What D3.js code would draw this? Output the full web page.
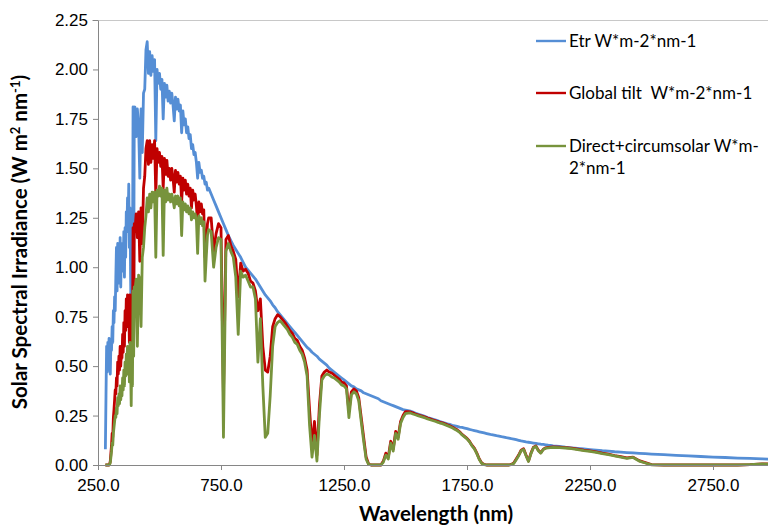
<!DOCTYPE html>
<html>
<head>
<meta charset="utf-8">
<script src="https://cdn.jsdelivr.net/npm/d3@7"></script>
<style>
  body { margin: 0; background: #fff; }
  svg { font-family: Lato, "Open Sans", sans-serif; }
</style>
</head>
<body>
<svg width="768" height="527"></svg>
<script>
// wavelengths (nm), by segment
const wavelength = [
  280, 282.5, 285, 287.5, 290, 292.5, 295, 297.5, 300, 302.5, 305, 307.5, 310, 312.5, 315, 317.5, 320, 322.5, 325, 327.5, 330, 332.5, 335, 337.5, 340, 342.5, 345, 347.5, 350, 352.5, 355, 357.5, 360, 362.5, 365, 367.5, 370, 372.5, 375, 377.5, 380, 382.5, 385, 387.5, 390, 392.5, 395, 397.5,
  400, 405, 410, 415, 420, 425, 430, 435, 440, 445, 450, 455, 460, 465, 470, 475, 480, 485, 490, 495, 500, 505, 510, 515, 520, 525, 530, 535, 540, 545, 550, 555, 560, 565, 570, 575, 580, 585, 590, 595, 600, 605, 610, 615, 620, 625, 630, 635, 640, 645, 650, 655, 660, 665, 670, 675, 680, 685, 690, 695, 700,
  710, 720, 730, 740, 750, 760, 770, 780, 790, 800, 810, 820, 830, 840, 850, 860, 870, 880, 890, 900, 910, 920, 930, 940, 950, 960, 970, 980, 990, 1000,
  1010, 1020, 1030, 1040, 1050, 1060, 1070, 1080, 1090, 1100, 1110, 1120, 1130, 1140, 1150, 1160, 1170, 1180, 1190, 1200,
  1210, 1220, 1230, 1240, 1250, 1260, 1270, 1280, 1290, 1300, 1310, 1320, 1330, 1340, 1350, 1360, 1370, 1380, 1390, 1400,
  1410, 1420, 1430, 1440, 1450, 1460, 1470, 1480, 1490, 1500, 1510, 1520, 1530, 1540, 1550, 1560, 1570, 1580, 1590, 1600,
  1610, 1620, 1630, 1640, 1650, 1660, 1670, 1680, 1690, 1700, 1710, 1720, 1730, 1740, 1750, 1760, 1770, 1780, 1790, 1800,
  1810, 1820, 1830, 1840, 1850, 1860, 1870, 1880, 1890, 1900, 1910, 1920, 1930, 1940, 1950, 1960, 1970, 1980, 1990, 2000,
  2010, 2020, 2030, 2040, 2050, 2060, 2070, 2080, 2090, 2100,
  2125, 2150, 2175, 2200, 2225, 2250, 2275, 2300, 2325, 2350, 2375, 2400, 2425, 2450, 2475, 2500,
  2550, 2600, 2650, 2700, 2750, 2800, 2850, 2900, 2950, 3000
];

// Etr W*m-2*nm-1
const etr = [
  0.08, 0.35, 0.60, 0.47, 0.62, 0.55, 0.64, 0.50, 0.46, 0.62, 0.58, 0.70, 0.62, 0.78, 0.72, 0.85, 0.78, 0.95, 1.10, 0.88, 1.12, 0.98, 1.05, 0.92, 1.15, 0.90, 1.08, 0.98, 1.12, 1.02, 1.18, 0.95, 1.20, 1.05, 1.28, 1.18, 1.35, 1.22, 1.42, 1.10, 1.30, 0.95, 0.72, 1.15, 0.90, 1.81, 0.80, 1.80,
  1.81, 1.66, 1.80, 1.72, 1.45, 1.80, 1.58, 1.88, 1.90, 2.10, 2.14, 1.98, 2.09, 1.97, 2.07, 1.99, 2.05, 1.64, 2.00, 1.93, 1.98, 1.90, 1.95, 1.75, 1.93, 1.86, 1.92, 1.84, 1.89, 1.83, 1.88, 1.82, 1.74, 1.86, 1.80, 1.85, 1.79, 1.82, 1.68, 1.79, 1.72, 1.75, 1.68, 1.71, 1.65, 1.67, 1.60, 1.62, 1.57, 1.58, 1.53, 1.45, 1.53, 1.48, 1.49, 1.45, 1.46, 1.42, 1.43, 1.39, 1.40,
  1.37, 1.34, 1.31, 1.28, 1.25, 1.22, 1.19, 1.16, 1.135, 1.11, 1.09, 1.07, 1.05, 1.025, 1.00, 0.985, 0.97, 0.955, 0.94, 0.92, 0.90, 0.88, 0.86, 0.845, 0.83, 0.81, 0.795, 0.775, 0.76, 0.745,
  0.73, 0.715, 0.70, 0.685, 0.67, 0.655, 0.64, 0.625, 0.61, 0.595, 0.585, 0.57, 0.56, 0.55, 0.535, 0.525, 0.515, 0.505, 0.49, 0.48,
  0.47, 0.46, 0.45, 0.44, 0.43, 0.42, 0.41, 0.40, 0.395, 0.385, 0.38, 0.375, 0.365, 0.36, 0.355, 0.35, 0.345, 0.34, 0.335, 0.325,
  0.32, 0.315, 0.31, 0.305, 0.30, 0.295, 0.29, 0.285, 0.28, 0.278, 0.275, 0.272, 0.268, 0.262, 0.258, 0.254, 0.25, 0.245, 0.24, 0.236,
  0.232, 0.228, 0.224, 0.22, 0.216, 0.212, 0.208, 0.205, 0.201, 0.198, 0.195, 0.192, 0.19, 0.187, 0.184, 0.18, 0.177, 0.174, 0.171, 0.168,
  0.165, 0.162, 0.159, 0.156, 0.153, 0.151, 0.148, 0.146, 0.143, 0.141, 0.138, 0.136, 0.133, 0.131, 0.128, 0.125, 0.122, 0.12, 0.117, 0.115,
  0.113, 0.111, 0.109, 0.107, 0.105, 0.104, 0.102, 0.10, 0.099, 0.097,
  0.094, 0.09, 0.087, 0.084, 0.081, 0.078, 0.075, 0.072, 0.07, 0.067, 0.065, 0.063, 0.061, 0.059, 0.057, 0.055,
  0.052, 0.049, 0.046, 0.043, 0.040, 0.038, 0.035, 0.033, 0.031, 0.029
];

// Global tilt  W*m-2*nm-1
const globalTilt = [
  0, 0, 0, 0, 0, 0, 0, 0.005, 0.02, 0.06, 0.10, 0.16, 0.14, 0.24, 0.28, 0.33, 0.38, 0.36, 0.44, 0.40, 0.52, 0.46, 0.55, 0.48, 0.60, 0.50, 0.58, 0.54, 0.66, 0.57, 0.72, 0.60, 0.78, 0.68, 0.84, 0.74, 0.86, 0.70, 0.82, 0.62, 0.86, 0.72, 0.55, 0.80, 0.60, 1.20, 0.75, 1.22,
  1.18, 1.27, 1.15, 1.28, 1.03, 1.30, 1.12, 1.40, 1.46, 1.60, 1.64, 1.52, 1.64, 1.53, 1.62, 1.55, 1.64, 1.36, 1.60, 1.53, 1.58, 1.51, 1.56, 1.40, 1.55, 1.47, 1.54, 1.46, 1.50, 1.44, 1.50, 1.45, 1.38, 1.49, 1.43, 1.48, 1.42, 1.46, 1.33, 1.45, 1.39, 1.44, 1.37, 1.42, 1.36, 1.40, 1.30, 1.39, 1.34, 1.37, 1.31, 1.22, 1.33, 1.28, 1.32, 1.27, 1.29, 1.05, 1.12, 1.22, 1.25,
  1.25, 1.08, 1.17, 1.22, 1.20, 0.35, 1.14, 1.16, 1.11, 1.08, 1.04, 0.85, 1.02, 0.98, 0.99, 0.97, 0.93, 0.92, 0.88, 0.78, 0.84, 0.60, 0.48, 0.47, 0.55, 0.70, 0.74, 0.76, 0.75, 0.735,
  0.72, 0.70, 0.68, 0.665, 0.64, 0.63, 0.60, 0.58, 0.54, 0.48, 0.28, 0.10, 0.22, 0.05, 0.30, 0.45, 0.47, 0.48, 0.47, 0.465,
  0.455, 0.445, 0.435, 0.42, 0.415, 0.40, 0.27, 0.37, 0.385, 0.375, 0.34, 0.24, 0.14, 0.04, 0.005, 0, 0, 0, 0, 0,
  0.02, 0.06, 0.04, 0.12, 0.08, 0.17, 0.14, 0.22, 0.25, 0.27, 0.27, 0.268, 0.264, 0.258, 0.254, 0.25, 0.246, 0.242, 0.237, 0.233,
  0.229, 0.225, 0.221, 0.216, 0.213, 0.208, 0.203, 0.198, 0.192, 0.185, 0.178, 0.168, 0.155, 0.145, 0.135, 0.12, 0.10, 0.085, 0.06, 0.03,
  0.01, 0.003, 0, 0, 0, 0, 0, 0, 0, 0, 0, 0, 0.003, 0.01, 0.03, 0.05, 0.075, 0.082, 0.05, 0.02,
  0.06, 0.09, 0.096, 0.075, 0.062, 0.08, 0.087, 0.089, 0.09, 0.091,
  0.09, 0.088, 0.085, 0.08, 0.075, 0.071, 0.066, 0.06, 0.055, 0.048, 0.042, 0.036, 0.04, 0.022, 0.012, 0.002,
  0, 0, 0, 0, 0, 0, 0, 0.002, 0.006, 0.005
];

// Direct+circumsolar W*m-2*nm-1
const direct = [
  0, 0, 0, 0, 0, 0, 0, 0.003, 0.012, 0.04, 0.07, 0.11, 0.10, 0.16, 0.19, 0.22, 0.25, 0.24, 0.29, 0.26, 0.34, 0.30, 0.36, 0.31, 0.40, 0.33, 0.38, 0.35, 0.44, 0.38, 0.48, 0.40, 0.52, 0.45, 0.56, 0.50, 0.60, 0.46, 0.58, 0.42, 0.62, 0.50, 0.30, 0.58, 0.40, 0.88, 0.55, 0.90,
  0.88, 0.94, 0.60, 0.96, 0.94, 0.70, 1.05, 1.10, 1.20, 1.26, 1.35, 1.28, 1.37, 1.30, 1.38, 1.33, 1.38, 1.05, 1.39, 1.36, 1.41, 1.36, 1.40, 1.06, 1.39, 1.33, 1.40, 1.34, 1.37, 1.33, 1.37, 1.34, 1.30, 1.36, 1.32, 1.36, 1.31, 1.35, 1.16, 1.33, 1.29, 1.32, 1.28, 1.31, 1.27, 1.30, 1.24, 1.28, 1.25, 1.27, 1.24, 1.07, 1.26, 1.22, 1.25, 1.21, 1.23, 0.93, 1.05, 1.16, 1.19,
  1.18, 1.00, 1.10, 1.15, 1.14, 0.14, 1.08, 1.12, 1.08, 1.05, 0.95, 0.66, 0.98, 0.95, 0.96, 0.93, 0.90, 0.90, 0.84, 0.52, 0.74, 0.40, 0.14, 0.16, 0.35, 0.60, 0.70, 0.72, 0.73, 0.715,
  0.70, 0.685, 0.66, 0.645, 0.62, 0.61, 0.58, 0.56, 0.52, 0.45, 0.20, 0.04, 0.15, 0.02, 0.25, 0.43, 0.45, 0.46, 0.455, 0.445,
  0.44, 0.43, 0.42, 0.405, 0.40, 0.385, 0.24, 0.355, 0.37, 0.36, 0.325, 0.22, 0.12, 0.03, 0.003, 0, 0, 0, 0, 0,
  0.015, 0.05, 0.03, 0.11, 0.07, 0.16, 0.13, 0.21, 0.24, 0.26, 0.262, 0.263, 0.258, 0.254, 0.25, 0.246, 0.242, 0.238, 0.233, 0.229,
  0.225, 0.221, 0.217, 0.212, 0.209, 0.204, 0.199, 0.194, 0.188, 0.181, 0.174, 0.165, 0.152, 0.142, 0.132, 0.117, 0.097, 0.082, 0.057, 0.028,
  0.008, 0.002, 0, 0, 0, 0, 0, 0, 0, 0, 0, 0, 0.002, 0.008, 0.027, 0.047, 0.072, 0.079, 0.047, 0.018,
  0.057, 0.087, 0.094, 0.072, 0.06, 0.078, 0.085, 0.087, 0.088, 0.089,
  0.088, 0.086, 0.083, 0.078, 0.073, 0.069, 0.064, 0.058, 0.053, 0.046, 0.04, 0.034, 0.038, 0.02, 0.01, 0.001,
  0, 0, 0, 0, 0, 0, 0, 0.002, 0.005, 0.004
];

const seriesNames = ["Etr W*m-2*nm-1", "Global tilt  W*m-2*nm-1", "Direct+circumsolar W*m-2*nm-1"];
const seriesColors = ["#558ed5", "#c00000", "#77933c"];
const xTicks = [250, 750, 1250, 1750, 2250, 2750];
const yTicks = [0, 0.25, 0.5, 0.75, 1, 1.25, 1.5, 1.75, 2, 2.25];

const svg = d3.select("svg");

// plot area runs past the right edge of the picture (the chart is cut there)
const x = d3.scaleLinear().domain([250, 4000]).range([98, 1020.5]);
const y = d3.scaleLinear().domain([0, 2.25]).range([465, 20]);

// top border of the plot area
svg.append("line")
  .attr("x1", 92).attr("x2", 1020)
  .attr("y1", 20.5).attr("y2", 20.5)
  .attr("stroke", "#c8c8c8");

const series = [etr, globalTilt, direct];

const line = d3.line()
  .x((d, i) => x(wavelength[i]))
  .y(d => y(d));

svg.append("g")
  .selectAll("path")
  .data(series)
  .enter()
  .append("path")
  .attr("d", d => line(d))
  .attr("fill", "none")
  .attr("stroke", (d, i) => seriesColors[i])
  .attr("stroke-width", 2.8)
  .attr("stroke-linejoin", "round");

// axes
const xAxis = svg.append("g")
  .attr("transform", "translate(0,465)")
  .call(d3.axisBottom(x).tickValues(xTicks).tickFormat(d3.format(".1f")).tickSize(5).tickSizeOuter(0).tickPadding(9));

const yAxis = svg.append("g")
  .attr("transform", "translate(98,0)")
  .call(d3.axisLeft(y).tickValues(yTicks).tickFormat(d3.format(".2f")).tickSize(5).tickSizeOuter(0).tickPadding(5));

[xAxis, yAxis].forEach(g => {
  g.selectAll("path, line").attr("stroke", "#868686");
  g.selectAll("text").attr("fill", "#000").style("font-size", "17px");
});

// axis titles
svg.append("text")
  .attr("x", 436).attr("y", 521)
  .attr("text-anchor", "middle")
  .style("font-size", "20.5px").style("font-weight", "bold")
  .text("Wavelength (nm)");

const yTitle = svg.append("text")
  .attr("transform", "translate(27,242) rotate(-90)")
  .attr("text-anchor", "middle")
  .style("font-size", "20.5px").style("font-weight", "bold");
yTitle.append("tspan").text("Solar Spectral Irradiance (W m");
yTitle.append("tspan").attr("dy", -7).style("font-size", "13px").text("2");
yTitle.append("tspan").attr("dy", 7).text(" nm");
yTitle.append("tspan").attr("dy", -7).style("font-size", "13px").text("-1");
yTitle.append("tspan").attr("dy", 7).text(")");

// legend
const legendY = [41, 93, 146];
const legend = svg.append("g");
seriesNames.forEach((name, i) => {
  legend.append("line")
    .attr("x1", 536).attr("x2", 566)
    .attr("y1", legendY[i]).attr("y2", legendY[i])
    .attr("stroke", seriesColors[i]).attr("stroke-width", 2.4);
  const t = legend.append("text")
    .attr("x", 569).attr("y", legendY[i] + 6)
    .style("font-size", "17px")
    .style("white-space", "pre");
  if (i === 2) {
    t.append("tspan").text("Direct+circumsolar W*m-");
    t.append("tspan").attr("x", 569).attr("dy", 22).text("2*nm-1");
  } else {
    t.text(name);
  }
});
</script>
</body>
</html>
